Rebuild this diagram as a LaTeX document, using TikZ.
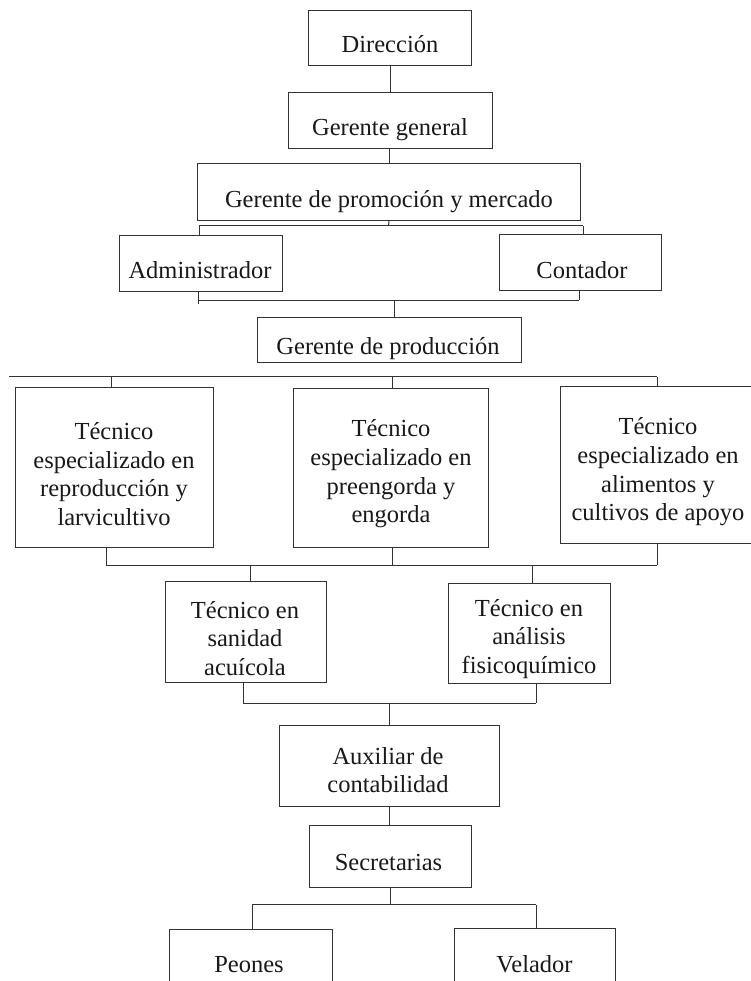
\documentclass[tikz,border=0pt]{standalone}
\usepackage{fontspec}
\setmainfont{Liberation Serif}
\begin{document}
\begin{tikzpicture}[x=1pt,y=-1pt,
  box/.style={draw=black!80, line width=1pt, inner sep=0pt, anchor=north west},
  lbl/.style={font=\fontsize{24.5}{28.7}\selectfont, align=center, inner sep=0pt, text=black!90},
  conn/.style={draw=black!80, line width=1pt}]
\useasboundingbox (0,0) rectangle (751,981);
\fill[white] (0,0) rectangle (751,981);
% boxes
\node[box, minimum width=163pt, minimum height=55pt] (dir) at (308,10) {};
\node[box, minimum width=204pt, minimum height=56pt] (gg) at (288,92) {};
\node[box, minimum width=383pt, minimum height=57pt] (prom) at (197,163) {};
\node[box, minimum width=163pt, minimum height=56pt] (adm) at (119,235) {};
\node[box, minimum width=162pt, minimum height=56pt] (cont) at (499,234) {};
\node[box, minimum width=264pt, minimum height=45pt] (gprod) at (257,317) {};
\node[box, minimum width=198pt, minimum height=160pt] (t1) at (15,387) {};
\node[box, minimum width=195pt, minimum height=159pt] (t2) at (293,388) {};
\node[box, minimum width=210pt, minimum height=157pt] (t3) at (560,386) {};
\node[box, minimum width=161pt, minimum height=101pt] (san) at (165,581) {};
\node[box, minimum width=162pt, minimum height=100pt] (ana) at (448,583) {};
\node[box, minimum width=220pt, minimum height=81pt] (aux) at (279,725) {};
\node[box, minimum width=162pt, minimum height=62pt] (sec) at (309,825) {};
\node[box, minimum width=163pt, minimum height=80pt] (peo) at (169,929) {};
\node[box, minimum width=161pt, minimum height=80pt] (vel) at (454,928) {};
% labels
\node[lbl, anchor=base] (dirT) at (390,53) {Dirección};
\node[lbl, anchor=base] (ggT) at (390,136) {Gerente general};
\node[lbl, anchor=base] (promT) at (389,208) {Gerente de promoción y mercado};
\node[lbl, anchor=base] (admT) at (200,278) {Administrador};
\node[lbl, anchor=base] (contT) at (582,278) {Contador};
\node[lbl, anchor=base] (gprodT) at (388,354) {Gerente de producción};
\node[lbl] (t1T) at (114,474) {Técnico\\especializado en\\reproducción y\\larvicultivo};
\node[lbl] (t2T) at (391,474) {Técnico\\especializado en\\preengorda y\\engorda};
\node[lbl] (t3T) at (658,472) {Técnico\\especializado en\\alimentos y\\cultivos de apoyo};
\node[lbl] (sanT) at (245,638.5) {Técnico en\\sanidad\\acuícola};
\node[lbl] (anaT) at (529,639) {Técnico en\\análisis\\fisicoquímico};
\node[lbl] (auxT) at (388,770) {Auxiliar de\\contabilidad};
\node[lbl, anchor=base] (secT) at (388.5,870) {Secretarias};
\node[lbl, anchor=base] (peoT) at (249,972) {Peones};
\node[lbl, anchor=base] (velT) at (534.5,972) {Velador};
% connectors
\draw[conn] (dir.south) -- (dir.south |- gg.north);
\draw[conn] (prom.north) -- (prom.north |- gg.south);
% bus 1
\coordinate (b1) at (388.5,226);
\coordinate (b1l) at (199,226);
\coordinate (b1r) at (583,226);
\draw[conn] (prom.south) -- (b1);
\draw[conn] (b1l) -- (b1r);
\draw[conn] (b1l) -- (b1l |- adm.north);
\draw[conn] (b1r) -- (b1r |- cont.north);
% bus 2
\coordinate (b2l) at (198,300);
\coordinate (b2r) at (579,300);
\coordinate (b2c) at (394,300);
\coordinate (b2t) at (198,304);
\draw[conn] (adm.south -| b2l) -- (b2t);
\draw[conn] (b2l) -- (b2r);
\draw[conn] (cont.south -| b2r) -- (b2r);
\draw[conn] (b2c) -- (b2c |- gprod.north);
% bus 3
\coordinate (b3s) at (9,376.5);
\coordinate (b3a) at (111,376.5);
\coordinate (b3b) at (392,376.5);
\coordinate (b3e) at (657,376.5);
\draw[conn] (b3s) -- (b3e);
\draw[conn] (b3a) -- (b3a |- t1.north);
\draw[conn] (b3b) -- (b3b |- t2.north);
\draw[conn] (b3e) -- (b3e |- t3.north);
% bus 4
\coordinate (b4l) at (106,565);
\coordinate (b4m) at (392,565);
\coordinate (b4r) at (657,565);
\coordinate (b4s) at (250,565);
\coordinate (b4a) at (532,565);
\draw[conn] (b4l) -- (b4r);
\draw[conn] (t1.south -| b4l) -- (b4l);
\draw[conn] (t2.south -| b4m) -- (b4m);
\draw[conn] (t3.south -| b4r) -- (b4r);
\draw[conn] (b4s) -- (b4s |- san.north);
\draw[conn] (b4a) -- (b4a |- ana.north);
% bus 5
\coordinate (b5l) at (243,703);
\coordinate (b5r) at (536,703);
\coordinate (b5c) at (389,703);
\draw[conn] (b5l) -- (b5r);
\draw[conn] (san.south -| b5l) -- (b5l);
\draw[conn] (ana.south -| b5r) -- (b5r);
\draw[conn] (b5c) -- (b5c |- aux.north);
% aux - sec
\draw[conn] (aux.south) -- (aux.south |- sec.north);
% bus 7
\coordinate (b7l) at (252,904.5);
\coordinate (b7r) at (536,904.5);
\coordinate (b7c) at (390,904.5);
\draw[conn] (sec.south) -- (sec.south |- b7c);
\draw[conn] (b7l) -- (b7r);
\draw[conn] (b7l) -- (b7l |- peo.north);
\draw[conn] (b7r) -- (b7r |- vel.north);
\end{tikzpicture}
\end{document}
